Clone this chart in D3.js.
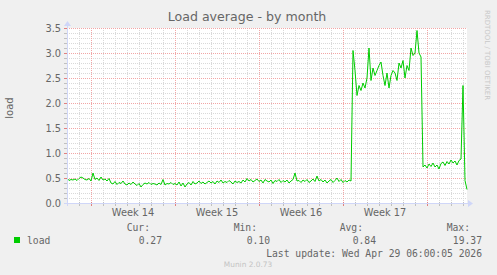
<!DOCTYPE html>
<html>
<head>
<meta charset="UTF-8">
<title>Load average - by month</title>
<script src="https://cdn.jsdelivr.net/npm/d3@7"></script>
<style>
    body { margin: 0; background: #f0f0f0; }
    svg { display: block; }
    text { font-family: "DejaVu Sans", sans-serif; fill: #666; }
    .mono { font-family: "DejaVu Sans Mono", monospace; font-size: 9.7px; }
</style>
</head>
<body>
<div id="chart"></div>
<script>
var svgW = 497, svgH = 275;
var plotL = 67, plotR = 467, plotT = 28, plotB = 203;

// window of the month view (about 33 days), one sample every 4 hours
var timeStart = "2026-03-28T00:00:00Z";
var timeEnd = "2026-04-30T08:00:00Z";
var sampleHours = 4;

// load values
var loadValues = [
    0.50, 0.45, 0.47, 0.46, 0.48, 0.45, 0.49, 0.52, 0.50, 0.47, 0.46, 0.49,
    0.44, 0.60, 0.47, 0.50, 0.45, 0.52, 0.46, 0.48, 0.44, 0.49,
    0.40, 0.38, 0.43, 0.37, 0.41, 0.39, 0.44, 0.38, 0.36, 0.40, 0.37, 0.42,
    0.38, 0.35, 0.39, 0.32, 0.37, 0.40, 0.38, 0.41, 0.37, 0.39, 0.38, 0.36,
    0.40, 0.37, 0.47, 0.36, 0.39, 0.38, 0.41, 0.37, 0.39, 0.36, 0.42, 0.34,
    0.40, 0.32, 0.38, 0.41, 0.36, 0.43, 0.38, 0.40, 0.44, 0.39, 0.42, 0.38,
    0.41, 0.44, 0.40, 0.43, 0.38, 0.44, 0.41, 0.46, 0.40, 0.43, 0.41, 0.45,
    0.42, 0.38, 0.44, 0.41, 0.43, 0.40, 0.46, 0.42, 0.49, 0.44, 0.47, 0.42,
    0.45, 0.48, 0.43, 0.46, 0.40, 0.47, 0.44, 0.42, 0.46, 0.39, 0.45, 0.43,
    0.47, 0.41, 0.45, 0.42, 0.46, 0.40, 0.44, 0.47, 0.60, 0.44, 0.45, 0.41,
    0.46, 0.43, 0.47, 0.41, 0.44, 0.48, 0.43, 0.54, 0.44, 0.47, 0.42, 0.46,
    0.40, 0.44, 0.47, 0.41, 0.45, 0.50, 0.43, 0.47, 0.41, 0.45, 0.42, 0.46,
    0.44, 3.05, 2.65, 2.15, 2.35, 2.25, 2.40, 2.30, 2.50, 3.10, 2.45, 2.70,
    2.55, 2.65, 2.75, 2.82, 2.55, 2.35, 2.60, 2.30, 2.55, 2.65, 2.60, 2.45,
    2.80, 2.70, 2.85, 2.50, 2.75, 2.65, 3.10, 2.95, 3.00, 3.45, 3.00, 2.92,
    0.72, 0.76, 0.70, 0.78, 0.73, 0.80, 0.72, 0.76, 0.68, 0.79, 0.82, 0.75,
    0.83, 0.78, 0.86, 0.80, 0.84, 0.76, 0.85, 0.88, 2.35, 0.45, 0.27
];

var yTicks = [0.0, 0.5, 1.0, 1.5, 2.0, 2.5, 3.0, 3.5];
var weekNames = ["Week 14", "Week 15", "Week 16", "Week 17"];
var weekMids = ["2026-04-02T12:00:00Z", "2026-04-09T12:00:00Z", "2026-04-16T12:00:00Z", "2026-04-23T12:00:00Z"];

var legendHeads = ["Cur:", "Min:", "Avg:", "Max:"];
var legendVals = ["0.27", "0.10", "0.84", "19.37"];
var legendHeadX = [150, 257, 363, 470];
var legendValX = [162, 270, 376, 482];

var lineColor = "#00cc00";

var t0 = new Date(timeStart), t1 = new Date(timeEnd);
var points = loadValues.map(function (v, i) {
    return {t: new Date(t0.getTime() + i * sampleHours * 3600e3), v: v};
});

var x = d3.scaleUtc().domain([t0, t1]).range([plotL, plotR]);
var y = d3.scaleLinear().domain([0, 3.5]).range([plotB, plotT]);

var svg = d3.select("#chart").append("svg")
        .attr("width", svgW)
        .attr("height", svgH);

svg.append("rect").attr("width", svgW).attr("height", svgH).attr("fill", "#f0f0f0");
svg.append("rect")
        .attr("x", plotL).attr("y", plotT)
        .attr("width", plotR - plotL).attr("height", plotB - plotT)
        .attr("fill", "#ffffff");

///////////////////////////////////////////////////////////////
// grid
///////////////////////////////////////////////////////////////
var days = d3.utcDay.range(t0, t1).filter(function (d) { return x(d) > plotL; });
var mondays = d3.utcMonday.range(t0, t1);
var minorDays = days.filter(function (d) { return d.getUTCDay() !== 1; });
var minorY = d3.range(1, 36).map(function (k) { return k / 10; })
        .filter(function (v) { return Math.round(v * 10) % 5 !== 0; });

var minorCol = "#d9d9d9", majorCol = "#f2a6a6";
var grid = svg.append("g");
grid.selectAll("line.vmin").data(minorDays).enter().append("line")
        .attr("x1", function (d) { return Math.round(x(d)) + 0.5; })
        .attr("x2", function (d) { return Math.round(x(d)) + 0.5; })
        .attr("y1", plotT).attr("y2", plotB)
        .attr("stroke", minorCol).attr("stroke-dasharray", "1,1");
grid.selectAll("line.hmin").data(minorY).enter().append("line")
        .attr("x1", plotL).attr("x2", plotR)
        .attr("y1", function (d) { return Math.round(y(d)) + 0.5; })
        .attr("y2", function (d) { return Math.round(y(d)) + 0.5; })
        .attr("stroke", minorCol).attr("stroke-dasharray", "1,1");
grid.selectAll("line.vmaj").data(mondays).enter().append("line")
        .attr("x1", function (d) { return Math.round(x(d)) + 0.5; })
        .attr("x2", function (d) { return Math.round(x(d)) + 0.5; })
        .attr("y1", plotT).attr("y2", plotB)
        .attr("stroke", majorCol).attr("stroke-dasharray", "1,1");
grid.selectAll("line.hmaj").data(yTicks.slice(1)).enter().append("line")
        .attr("x1", plotL).attr("x2", plotR)
        .attr("y1", function (d) { return Math.round(y(d)) + 0.5; })
        .attr("y2", function (d) { return Math.round(y(d)) + 0.5; })
        .attr("stroke", majorCol).attr("stroke-dasharray", "1,1");

// axis tick marks
grid.selectAll("line.xt").data(days).enter().append("line")
        .attr("x1", function (d) { return Math.round(x(d)) + 0.5; })
        .attr("x2", function (d) { return Math.round(x(d)) + 0.5; })
        .attr("y1", plotB - 1).attr("y2", plotB + 3)
        .attr("stroke", function (d) { return d.getUTCDay() === 1 ? "#e08080" : "#c0c0c0"; });
grid.selectAll("line.yt").data(yTicks.concat(minorY)).enter().append("line")
        .attr("x1", plotL - 3).attr("x2", plotL + 1)
        .attr("y1", function (d) { return Math.round(y(d)) + 0.5; })
        .attr("y2", function (d) { return Math.round(y(d)) + 0.5; })
        .attr("stroke", function (d) { return yTicks.indexOf(d) >= 0 ? "#e08080" : "#c0c0c0"; });

///////////////////////////////////////////////////////////////
// series
///////////////////////////////////////////////////////////////
var line = d3.line()
        .x(function (d) { return x(d.t); })
        .y(function (d) { return y(Math.min(d.v, 3.5)); });
svg.append("path")
        .datum(points)
        .attr("d", line)
        .attr("fill", "none")
        .attr("stroke", lineColor)
        .attr("stroke-width", 1);

///////////////////////////////////////////////////////////////
// axes with arrows
///////////////////////////////////////////////////////////////
var axisCol = "#cfd6f8";
svg.append("line").attr("x1", plotL - 3).attr("x2", plotR + 2)
        .attr("y1", plotB + 0.5).attr("y2", plotB + 0.5).attr("stroke", axisCol);
svg.append("line").attr("x1", plotL + 0.5).attr("x2", plotL + 0.5)
        .attr("y1", plotB + 3).attr("y2", plotT - 3).attr("stroke", axisCol);
svg.append("path")
        .attr("d", "M" + (plotR + 6) + "," + (plotB + 0.5) + "L" + (plotR + 1) + "," + (plotB - 3) + "L" + (plotR + 1) + "," + (plotB + 4) + "Z")
        .attr("fill", axisCol);
svg.append("path")
        .attr("d", "M" + (plotL + 0.5) + "," + (plotT - 7) + "L" + (plotL - 3) + "," + (plotT - 2) + "L" + (plotL + 4) + "," + (plotT - 2) + "Z")
        .attr("fill", axisCol);

// tick labels
svg.selectAll("text.ylab").data(yTicks).enter().append("text")
        .attr("x", plotL - 6)
        .attr("y", function (d) { return y(d) + 3.5; })
        .attr("text-anchor", "end")
        .style("font-size", "9.8px")
        .text(function (d) { return d.toFixed(1); });
svg.selectAll("text.wk").data(weekNames).enter().append("text")
        .attr("x", function (d, i) { return x(new Date(weekMids[i])); })
        .attr("y", plotB + 13)
        .attr("text-anchor", "middle")
        .style("font-size", "9.8px")
        .text(function (d) { return d; });

// titles
svg.append("text")
        .attr("x", 247).attr("y", 21)
        .attr("text-anchor", "middle")
        .style("font-size", "12.6px")
        .text("Load average - by month");
svg.append("text")
        .attr("transform", "translate(13,108) rotate(-90)")
        .attr("text-anchor", "middle")
        .style("font-size", "10px")
        .text("load");
svg.append("text")
        .attr("transform", "translate(485,55) rotate(90)")
        .attr("text-anchor", "middle")
        .style("font-size", "7px")
        .style("fill", "#c8c8c8")
        .text("RRDTOOL / TOBI OETIKER");

///////////////////////////////////////////////////////////////
// legend
///////////////////////////////////////////////////////////////
svg.append("rect").attr("x", 14).attr("y", 237).attr("width", 6).attr("height", 6)
        .attr("fill", lineColor);
svg.append("text").attr("class", "mono").attr("x", 27).attr("y", 244).text("load");
svg.selectAll("text.lh").data(legendHeads).enter().append("text")
        .attr("class", "mono")
        .attr("x", function (d, i) { return legendHeadX[i]; })
        .attr("y", 231)
        .attr("text-anchor", "end")
        .text(function (d) { return d; });
svg.selectAll("text.lv").data(legendVals).enter().append("text")
        .attr("class", "mono")
        .attr("x", function (d, i) { return legendValX[i]; })
        .attr("y", 244)
        .attr("text-anchor", "end")
        .text(function (d) { return d; });
svg.append("text").attr("class", "mono")
        .attr("x", 482).attr("y", 257)
        .attr("text-anchor", "end")
        .text("Last update: Wed Apr 29 06:00:05 2026");
svg.append("text")
        .attr("x", 248).attr("y", 267)
        .attr("text-anchor", "middle")
        .style("font-size", "7.4px")
        .style("fill", "#c4c4c4")
        .text("Munin 2.0.73");
</script>
</body>
</html>
